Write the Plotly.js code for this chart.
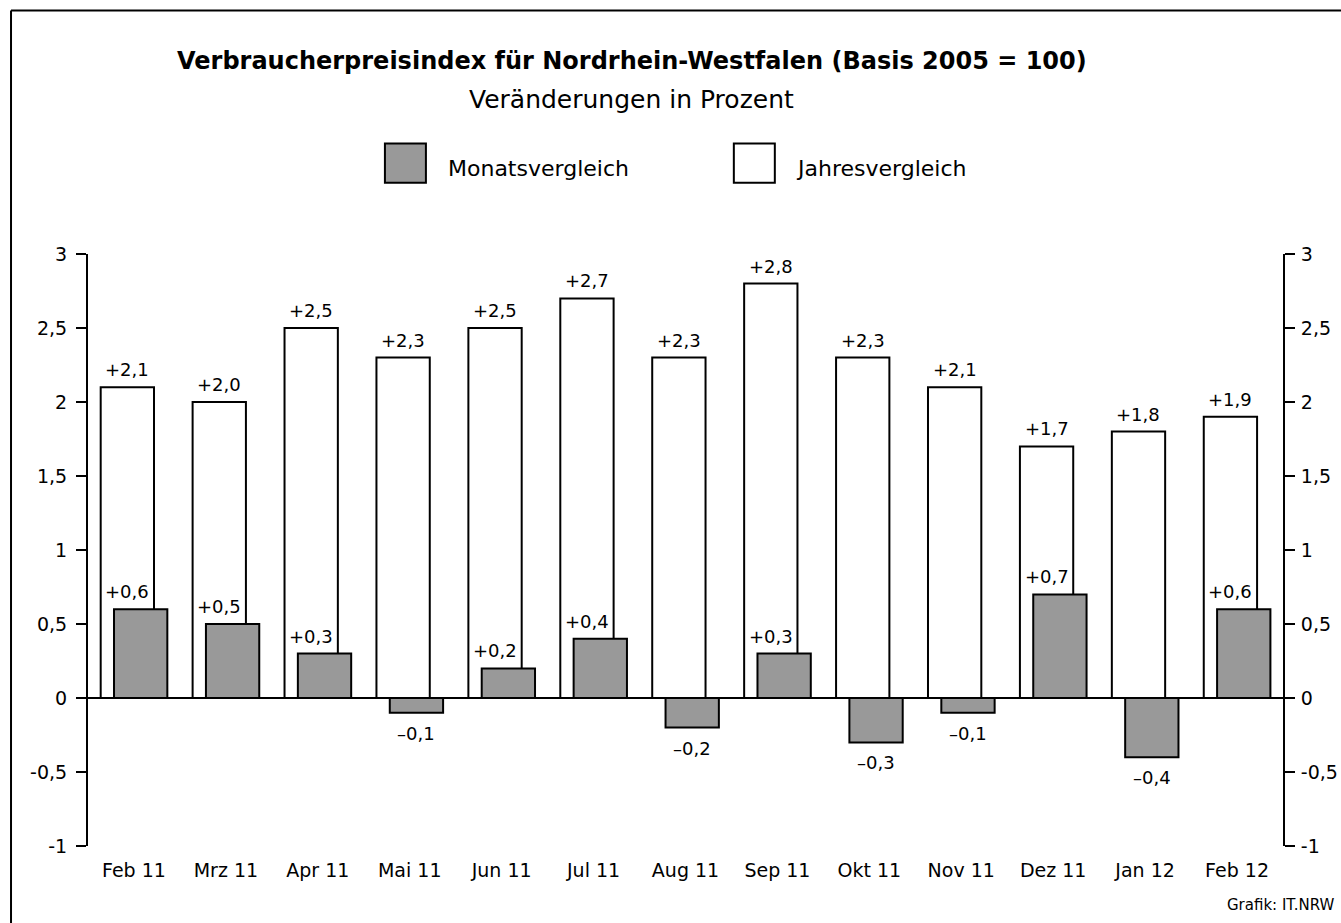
<!DOCTYPE html>
<html>
<head>
<meta charset="utf-8">
<script src="https://cdn.plot.ly/plotly-3.0.1.min.js"></script>
<style>html,body{margin:0;padding:0;background:#fff;}#chart{width:1341px;height:923px;}</style>
</head>
<body>
<div id="chart"></div>
<script>
// ---- data ----
const categories = ['Feb 11','Mrz 11','Apr 11','Mai 11','Jun 11','Jul 11','Aug 11','Sep 11','Okt 11','Nov 11','Dez 11','Jan 12','Feb 12'];
const monatsvergleich = [0.6, 0.5, 0.3, -0.1, 0.2, 0.4, -0.2, 0.3, -0.3, -0.1, 0.7, -0.4, 0.6];
const jahresvergleich = [2.1, 2.0, 2.5, 2.3, 2.5, 2.7, 2.3, 2.8, 2.3, 2.1, 1.7, 1.8, 1.9];
const yTickVals = [-1, -0.5, 0, 0.5, 1, 1.5, 2, 2.5, 3];
const yTickText = ['-1', '-0,5', '0', '0,5', '1', '1,5', '2', '2,5', '3'];
const seriesNames = ['Monatsvergleich', 'Jahresvergleich'];
const titleText = 'Verbraucherpreisindex für Nordrhein-Westfalen (Basis 2005 = 100)';
const subtitleText = 'Veränderungen in Prozent';
const sourceText = 'Grafik: IT.NRW';

// ---- layout helpers ----
const FONT = 'DejaVu Sans, sans-serif';
const W = 1341, H = 923;
const L = 88, R = 1283.3, T = 254.3, B = 845.7;
const px = p => (p - L) / (R - L);
const py = p => (B - p) / (B - T);
const GREY = '#999999';

function fmt(v) {
  const s = Math.abs(v).toFixed(1).replace('.', ',');
  return (v >= 0 ? '+' : '\u2013') + s;
}

const BAR_W = 0.58;
const traces = [
  {
    type: 'bar', name: seriesNames[1], x: categories, y: jahresvergleich,
    offset: -0.362, width: BAR_W,
    marker: {color: '#ffffff', line: {color: '#000000', width: 2}},
    showlegend: false, hoverinfo: 'skip'
  },
  {
    type: 'bar', name: seriesNames[0], x: categories, y: monatsvergleich,
    offset: -0.217, width: BAR_W,
    marker: {color: GREY, line: {color: '#000000', width: 2}},
    showlegend: false, hoverinfo: 'skip'
  },
  {
    // invisible helper so the right-hand axis is drawn
    type: 'scatter', mode: 'markers', x: categories, y: jahresvergleich, yaxis: 'y2',
    marker: {opacity: 0, size: 1}, showlegend: false, hoverinfo: 'skip'
  }
];

const catPx = (R - L) / categories.length;
const whiteShift = (-0.362 + BAR_W / 2) * catPx;
const greyShift = (-0.217 + BAR_W / 2) * catPx;

const annotations = [];
categories.forEach((c, i) => {
  annotations.push({
    x: c, y: jahresvergleich[i], xref: 'x', yref: 'y', text: fmt(jahresvergleich[i]),
    showarrow: false, xshift: whiteShift, yanchor: 'bottom', yshift: 5,
    font: {family: FONT, size: 18, color: '#000'}
  });
  const m = monatsvergleich[i];
  annotations.push({
    x: c, y: m, xref: 'x', yref: 'y', text: fmt(m),
    showarrow: false, xshift: m >= 0 ? whiteShift : greyShift,
    yanchor: m >= 0 ? 'bottom' : 'top', yshift: m >= 0 ? 5 : -8,
    font: {family: FONT, size: 18, color: '#000'}
  });
});

// titles
annotations.push({
  xref: 'paper', yref: 'paper', x: px(632), y: py(61), xanchor: 'center', yanchor: 'middle',
  text: '<b>' + titleText + '</b>', showarrow: false,
  font: {family: FONT, size: 24, color: '#000'}
});
annotations.push({
  xref: 'paper', yref: 'paper', x: px(632), y: py(100), xanchor: 'center', yanchor: 'middle',
  text: subtitleText, showarrow: false,
  font: {family: FONT, size: 25, color: '#000'}
});
// legend texts
annotations.push({
  xref: 'paper', yref: 'paper', x: px(446), y: py(169), xanchor: 'left', yanchor: 'middle',
  text: seriesNames[0], showarrow: false, font: {family: FONT, size: 22, color: '#000'}
});
annotations.push({
  xref: 'paper', yref: 'paper', x: px(794), y: py(169), xanchor: 'left', yanchor: 'middle',
  text: seriesNames[1], showarrow: false, font: {family: FONT, size: 22, color: '#000'}
});
// source
annotations.push({
  xref: 'paper', yref: 'paper', x: px(1337), y: py(905), xanchor: 'right', yanchor: 'middle',
  text: sourceText, showarrow: false, font: {family: FONT, size: 15, color: '#000'}
});

const shapes = [
  // legend boxes
  {type: 'rect', xref: 'paper', yref: 'paper', x0: px(385), x1: px(426), y0: py(144), y1: py(183),
   fillcolor: GREY, line: {color: '#000', width: 2}},
  {type: 'rect', xref: 'paper', yref: 'paper', x0: px(734), x1: px(775), y0: py(144), y1: py(183),
   fillcolor: '#fff', line: {color: '#000', width: 2}},
  // outer frame (top and left edges visible)
  {type: 'line', xref: 'paper', yref: 'paper', x0: px(11), x1: px(1350), y0: py(11), y1: py(11),
   line: {color: '#000', width: 2}},
  {type: 'line', xref: 'paper', yref: 'paper', x0: px(11), x1: px(11), y0: py(11), y1: py(930),
   line: {color: '#000', width: 2}}
];

const yaxisBase = {
  range: [-1, 3], tickmode: 'array', tickvals: yTickVals, ticktext: yTickText,
  ticks: 'outside', ticklen: 10, tickwidth: 2, tickcolor: '#000',
  showline: true, linewidth: 2, linecolor: '#000', showgrid: false,
  tickfont: {family: FONT, size: 19, color: '#000'}, fixedrange: true
};

const layout = {
  width: W, height: H,
  margin: {l: L, r: W - R, t: T, b: H - B, pad: 0},
  paper_bgcolor: '#fff', plot_bgcolor: '#fff',
  barmode: 'overlay', showlegend: false,
  font: {family: FONT, size: 17, color: '#000'},
  xaxis: {
    type: 'category', range: [-0.5, categories.length - 0.5],
    showline: false, ticks: '', showgrid: false, zeroline: false,
    tickfont: {family: FONT, size: 19, color: '#000'}, ticklabelstandoff: 11, fixedrange: true
  },
  yaxis: Object.assign({}, yaxisBase, {side: 'left', zeroline: true, zerolinecolor: '#000', zerolinewidth: 2, ticklabelstandoff: 5}),
  yaxis2: Object.assign({}, yaxisBase, {side: 'right', overlaying: 'y', anchor: 'x', zeroline: false, ticklabelstandoff: 2}),
  annotations: annotations,
  shapes: shapes,
  hovermode: false
};

Plotly.newPlot('chart', traces, layout, {staticPlot: true, displayModeBar: false});
</script>
</body>
</html>
